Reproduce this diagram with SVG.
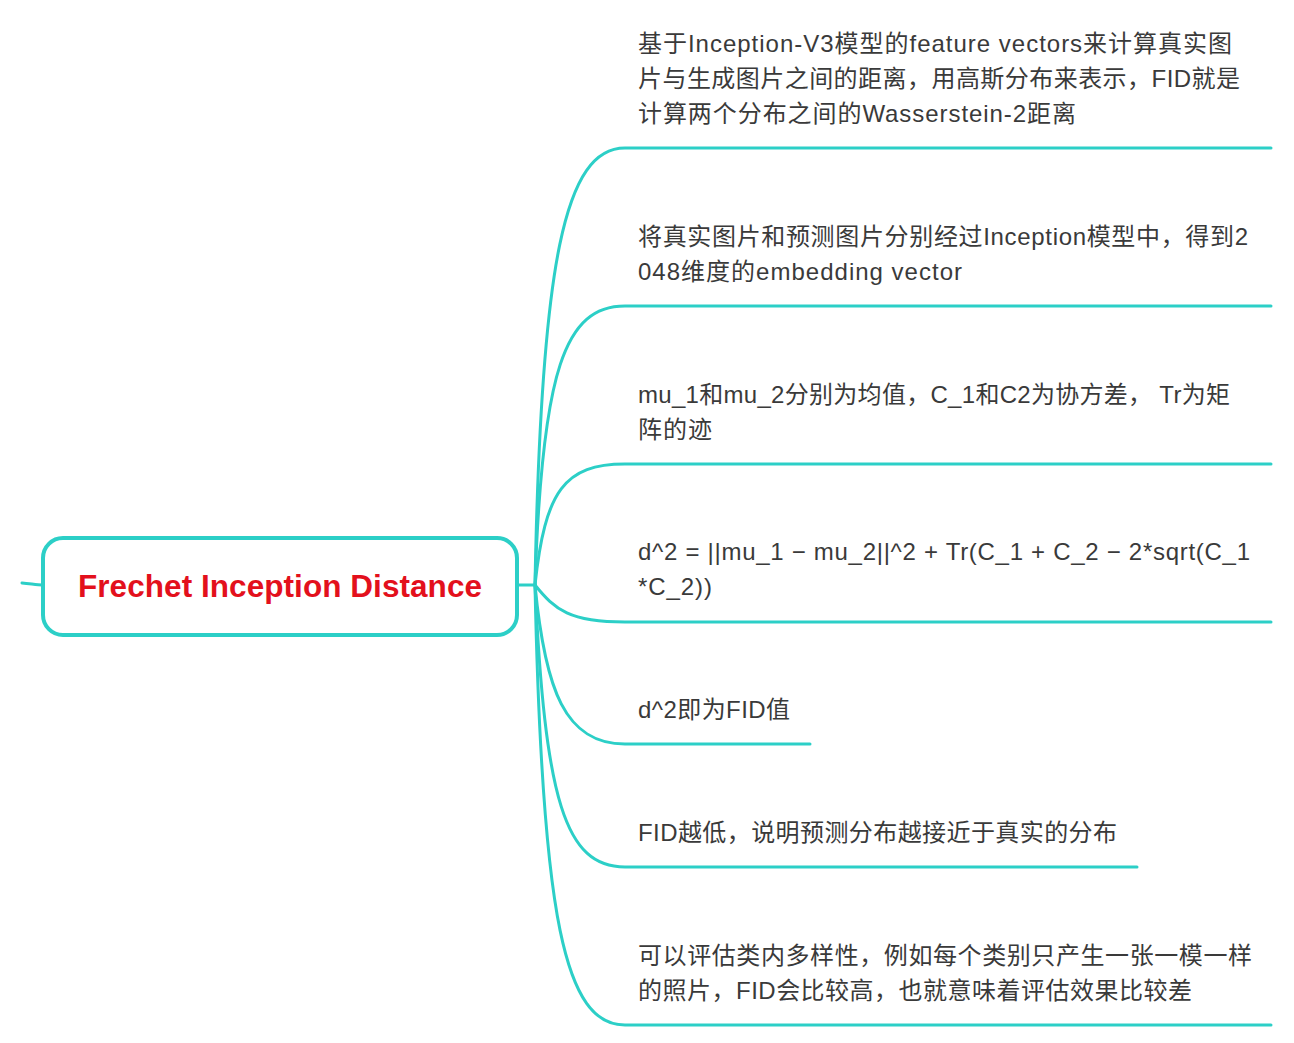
<svg xmlns="http://www.w3.org/2000/svg" width="1294" height="1043" viewBox="0 0 1294 1043">
<style>
.c{fill:none;stroke:#2ccfc7;stroke-width:3;stroke-linecap:round}
.t{font-family:"Liberation Sans","Noto Sans CJK SC",sans-serif;font-size:24px;fill:#3a3a3a}
.m{font-family:"Liberation Sans","Noto Sans CJK SC",sans-serif;font-size:31.5px;font-weight:bold;fill:#e3101c}
</style>
<rect width="1294" height="1043" fill="#ffffff"/>
<g id="connectors">
<path class="c" d="M22,583 C32,584 38,585 42,585"/>
<path class="c" d="M517,585 L535,585"/>
<path class="c" d="M535,585 C541,260 565,148 625,148 L1271,148"/>
<path class="c" d="M535,585 C542,370 565,306 625,306 L1271,306"/>
<path class="c" d="M535,585 C545,490 565,464 625,464 L1271,464"/>
<path class="c" d="M535,585 C555,610 570,622 625,622 L1271,622"/>
<path class="c" d="M535,585 C545,690 565,744 625,744 L810,744"/>
<path class="c" d="M535,585 C545,800 565,867 625,867 L1137,867"/>
<path class="c" d="M535,585 C542,920 565,1025 625,1025 L1271,1025"/>
</g>
<g id="root">
<rect x="43" y="538" width="474" height="97" rx="20" fill="#ffffff" stroke="#2ccfc7" stroke-width="4"/>
<text class="m" x="280" y="597" text-anchor="middle" textLength="404">Frechet Inception Distance</text>
</g>
<g id="n1">
<text class="t" x="638" y="52" textLength="594">基于Inception-V3模型的feature vectors来计算真实图</text>
<text class="t" x="638" y="87" textLength="602">片与生成图片之间的距离，用高斯分布来表示，FID就是</text>
<text class="t" x="638" y="122" textLength="438">计算两个分布之间的Wasserstein-2距离</text>
</g>
<g id="n2">
<text class="t" x="638" y="245" textLength="610">将真实图片和预测图片分别经过Inception模型中，得到2</text>
<text class="t" x="638" y="280" textLength="324">048维度的embedding vector</text>
</g>
<g id="n3">
<text class="t" x="638" y="403" textLength="592">mu_1和mu_2分别为均值，C_1和C2为协方差， Tr为矩</text>
<text class="t" x="638" y="438" textLength="74">阵的迹</text>
</g>
<g id="n4">
<text class="t" x="638" y="560" textLength="612">d^2 = ||mu_1 − mu_2||^2 + Tr(C_1 + C_2 − 2*sqrt(C_1</text>
<text class="t" x="638" y="595" textLength="74">*C_2))</text>
</g>
<g id="n5">
<text class="t" x="638" y="718" textLength="152">d^2即为FID值</text>
</g>
<g id="n6">
<text class="t" x="638" y="841" textLength="479">FID越低，说明预测分布越接近于真实的分布</text>
</g>
<g id="n7">
<text class="t" x="638" y="964" textLength="614">可以评估类内多样性，例如每个类别只产生一张一模一样</text>
<text class="t" x="638" y="999" textLength="554">的照片，FID会比较高，也就意味着评估效果比较差</text>
</g>
</svg>
